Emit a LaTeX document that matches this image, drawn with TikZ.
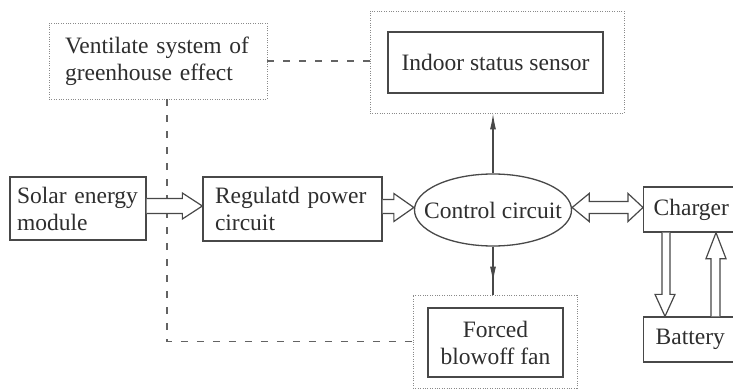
\documentclass[tikz,border=0pt]{standalone}
\usepackage{fontspec}
\setmainfont{Liberation Serif}
\usetikzlibrary{shapes.geometric,arrows.meta,calc}
\definecolor{ink}{HTML}{2E2E2E}
\definecolor{edge}{HTML}{484848}
\definecolor{dotc}{HTML}{8A8A8A}
\begin{document}
\begin{tikzpicture}[x=1pt,y=-1pt,
  txt/.style={font=\fontsize{23.5}{27}\selectfont, text=ink},
  solidbox/.style={txt, draw=edge, line width=1.3pt, rectangle, inner ysep=0pt},
  dotbox/.style={draw=dotc, line width=0.8pt, dash pattern=on 1pt off 1.4pt, rectangle, inner sep=0pt},
  dashline/.style={draw=edge!85, line width=1.2pt, dash pattern=on 7pt off 9pt},
  hollow/.style={draw=edge, line width=1.2pt, fill=white, line join=miter},
  thin/.style={draw=edge, line width=1.2pt},
  sharp/.style={-{Latex[length=16pt,width=6pt]}}
]
\path[use as bounding box, clip] (0,0) rectangle (733,390);
\fill[white] (0,0) rectangle (733,390);

% nodes
\node[dotbox, txt, minimum width=218pt, minimum height=76pt, text width=186pt, inner xsep=16pt, align=left] (vent) at (158,61)
  {Ventilate system of\\greenhouse effect};
\node[dotbox, minimum width=254pt, minimum height=102pt] (indoorout) at (497,62) {};
\node[solidbox, minimum width=215pt, minimum height=61pt, inner xsep=0pt] (indoorin) at (495.5,62.5) {Indoor status sensor};
\node[solidbox, minimum height=63pt, text width=122pt, inner xsep=7pt, align=left] (solar) at (78,208.5)
  {Solar energy\\module};
\node[solidbox, minimum height=64pt, text width=155pt, inner xsep=12pt, align=left] (reg) at (292.5,209)
  {Regulatd power\\circuit};
\node[draw=edge, line width=1.3pt, ellipse, minimum width=157pt, minimum height=72pt, inner sep=0pt,
  label={[txt]center:Control circuit}] (ctrl) at (493,210) {};
\node[solidbox, anchor=west, minimum height=45pt, text width=92pt, inner xsep=10pt, align=left] (charger) at (643,209.5) {Charger};
\node[solidbox, anchor=west, minimum height=45pt, text width=92pt, inner xsep=12pt, align=left] (battery) at (643,339.5) {Battery};
\node[dotbox, minimum width=164pt, minimum height=93pt] (fanout) at (495,341.5) {};
\node[solidbox, minimum width=135pt, minimum height=69pt, inner xsep=0pt, align=center] (fanin) at (495.5,342.5)
  {Forced\\blowoff fan};

% dashed links
\draw[dashline] (vent.east) -- (indoorout.west |- vent.east);
\draw[dashline] (vent.south -| 167,0) |- (fanout.west);

% hollow arrow: solar -> regulated
\draw[hollow] (solar.east |- 0,198.5) -- ($(reg.west |- 0,198.5)+(-20,0)$) -- ($(reg.west |- 0,193)+(-20,0)$)
  -- (reg.west |- 0,206) -- ($(reg.west |- 0,219)+(-20,0)$) -- ($(reg.west |- 0,213.5)+(-20,0)$) -- (solar.east |- 0,213.5);
% hollow arrow: regulated -> control
\draw[hollow] (reg.east |- 0,199.5) -- ($(ctrl.west |- 0,199.5)+(-20,0)$) -- ($(ctrl.west |- 0,193.5)+(-20,0)$)
  -- (ctrl.west |- 0,207.5) -- ($(ctrl.west |- 0,221.5)+(-20,0)$) -- ($(ctrl.west |- 0,213.5)+(-20,0)$) -- (reg.east |- 0,213.5);
% double hollow arrow: control <-> charger
\draw[hollow] (ctrl.east |- 0,207.5) -- ($(ctrl.east |- 0,193.5)+(17,0)$) -- ($(ctrl.east |- 0,201.5)+(17,0)$)
  -- ($(charger.west |- 0,201.5)+(-15,0)$) -- ($(charger.west |- 0,193.5)+(-15,0)$) -- (charger.west |- 0,207.5)
  -- ($(charger.west |- 0,221.5)+(-15,0)$) -- ($(charger.west |- 0,213.5)+(-15,0)$)
  -- ($(ctrl.east |- 0,213.5)+(17,0)$) -- ($(ctrl.east |- 0,221.5)+(17,0)$) -- cycle;
% hollow arrow: charger -> battery (down)
\draw[hollow] (charger.south -| 662,0) -- ($(battery.north -| 662,0)+(0,-22)$) -- ($(battery.north -| 655,0)+(0,-22)$)
  -- (battery.north -| 665,0) -- ($(battery.north -| 675,0)+(0,-22)$) -- ($(battery.north -| 670,0)+(0,-22)$) -- (charger.south -| 670,0);
% hollow arrow: battery -> charger (up)
\draw[hollow] (battery.north -| 711,0) -- ($(charger.south -| 711,0)+(0,26)$) -- ($(charger.south -| 706,0)+(0,26)$)
  -- (charger.south -| 716,0) -- ($(charger.south -| 726,0)+(0,26)$) -- ($(charger.south -| 720,0)+(0,26)$) -- (battery.north -| 720,0);

% control links
\draw[thin, sharp] (ctrl.north) -- (ctrl.north |- indoorout.south);
\draw[thin] (ctrl.south) -- (ctrl.south |- fanout.north);
\draw[thin, sharp, shorten >=12pt] (ctrl.south) -- (ctrl.south |- fanout.north);
\end{tikzpicture}
\end{document}
